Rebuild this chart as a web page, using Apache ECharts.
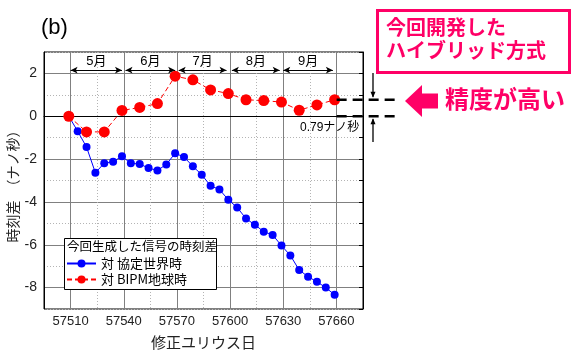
<!DOCTYPE html>
<html><head><meta charset="utf-8">
<script src="https://cdn.jsdelivr.net/npm/echarts@6/dist/echarts.min.js"></script>
<style>html,body{margin:0;padding:0;background:#fff}#c{width:575px;height:364px}</style>
</head><body><div id="c"></div>
<script>
// ---- data ----
const blueDays = [57509,57514,57519,57524,57529,57534,57539,57544,57549,57554,57559,57564,57569,57574,57579,57584,57589,57594,57599,57604,57609,57614,57619,57624,57629,57634,57639,57644,57649,57654,57659];
const blueValues = [0,-0.70,-1.44,-2.64,-2.19,-2.12,-1.87,-2.20,-2.23,-2.42,-2.53,-2.25,-1.73,-1.90,-2.34,-2.73,-3.25,-3.42,-3.90,-4.26,-4.78,-5.07,-5.39,-5.54,-6.04,-6.50,-7.18,-7.49,-7.73,-8.00,-8.34];
const redDays = [57509,57519,57529,57539,57549,57559,57569,57579,57589,57599,57609,57619,57629,57639,57649,57659];
const redValues = [0,-0.73,-0.73,0.27,0.41,0.59,1.87,1.70,1.23,1.06,0.77,0.73,0.66,0.28,0.53,0.77];
const xTickLabels = [57510,57540,57570,57600,57630,57660];
const yTickLabels = [-8,-6,-4,-2,0,2];
const monthNames = ['5月','6月','7月','8月','9月'];
const monthStart = [57510,57541,57571,57601,57630];
const monthEnd = [57539,57569,57598,57628,57658];
const monthLevel = 2.15;
const seriesNames = ['対 協定世界時','対 BIPM地球時'];
const legendTitle = '今回生成した信号の時刻差';
const diffLabel = '0.79ナノ秒';
const yName = '時刻差　（ナノ秒）';

const PINK = '#ff0066';
const LAT = "'Liberation Sans', 'Noto Sans CJK JP', sans-serif";
const JP = "'Noto Sans CJK JP', sans-serif";

const chart = echarts.init(document.getElementById('c'), null, {renderer:'canvas'});
const zip = (a,b) => a.map((v,i)=>[v,b[i]]);

const xBase = {type:'value', min:57495, max:57675, interval:15, gridIndex:0};
const yBase = {type:'value', min:-9, max:3, interval:1, gridIndex:0};

const option = {
  animation:false,
  backgroundColor:'#fff',
  grid:{left:44, right:212, top:52, bottom:55, containLabel:false, outerBoundsMode:'none',
    show:true, borderColor:'#000', borderWidth:1, backgroundColor:'transparent'},
  xAxis:[
    Object.assign({}, xBase, {
      position:'bottom',
      name:'修正ユリウス日', nameLocation:'middle', nameGap:26,
      nameTextStyle:{fontFamily:JP, fontSize:15, color:'#222'},
      axisLine:{show:true, lineStyle:{color:'#000', width:1}},
      axisTick:{show:false},
      axisLabel:{margin:6, fontFamily:LAT, fontSize:13, color:'#222',
        formatter:v => xTickLabels.includes(v) ? String(v) : ''},
      splitLine:{show:true, lineStyle:{color:['#b4b4b4','transparent'], type:[1,2], width:1}}
    }),
    Object.assign({}, xBase, {
      position:'bottom', axisLine:{show:false}, axisTick:{show:false}, axisLabel:{show:false},
      splitLine:{show:true, lineStyle:{color:['transparent','#808080'], type:'solid', width:1}}
    })
  ],
  yAxis:[
    Object.assign({}, yBase, {
      position:'left',
      axisLine:{show:true, lineStyle:{color:'#000', width:1}},
      axisTick:{show:false},
      axisLabel:{margin:7, fontFamily:LAT, fontSize:14, color:'#222',
        formatter:v => yTickLabels.includes(v) ? String(v) : ''},
      splitLine:{show:true, lineStyle:{color:['#b4b4b4','transparent'], type:[1,2], width:1}}
    }),
    Object.assign({}, yBase, {
      position:'left', axisLine:{show:false}, axisTick:{show:false}, axisLabel:{show:false},
      splitLine:{show:true, lineStyle:{color:['transparent','#808080'], type:'solid', width:1}}
    }),
    Object.assign({}, yBase, {
      position:'right', axisLine:{show:true, lineStyle:{color:'#000'}},
      axisTick:{show:true, inside:true, length:4, lineStyle:{color:'#000'}},
      axisLabel:{show:false}, splitLine:{show:false}
    })
  ],
  legend:{
    orient:'vertical', left:66, top:257, padding:0, itemWidth:29, itemHeight:10, itemGap:3,
    textStyle:{fontFamily:JP, fontSize:13, color:'#000'},
    data:seriesNames, z:6
  },
  series:[
    {
      name:seriesNames[0], type:'line', xAxisIndex:0, yAxisIndex:0,
      data:zip(blueDays, blueValues),
      symbol:'circle', symbolSize:8,
      itemStyle:{color:'#0000ff'},
      lineStyle:{color:'#0000ff', width:1},
      z:3
    },
    {
      name:seriesNames[1], type:'line', xAxisIndex:0, yAxisIndex:0,
      data:zip(redDays, redValues),
      symbol:'circle', symbolSize:11,
      itemStyle:{color:'#ff0000'},
      lineStyle:{color:'#ff0000', width:1, type:[5,3]},
      z:4,
      markLine:{
        silent:true, symbol:['arrow','arrow'], symbolSize:[5,7], precision:4,
        lineStyle:{color:'#000', width:1, type:'solid'},
        label:{show:true, position:'middle', distance:2, formatter:'{b}',
          fontFamily:LAT, fontSize:13, color:'#000'},
        emphasis:{disabled:true},
        data: monthNames.map((m,i)=>[
          {name:m, coord:[monthStart[i], monthLevel]},
          {coord:[monthEnd[i], monthLevel]}
        ])
      }
    }
  ]
};
chart.setOption(option);

// ---- annotations ----
const px = (x,y) => chart.convertToPixel({gridIndex:0}, [x,y]);
const lastRed = redValues[redValues.length-1];
const pTop = px(redDays[redDays.length-1], lastRed);
const pZero = px(redDays[redDays.length-1], 0);
const xDashStart = pTop[0] + 2;
const xDashEnd = 395;
const xDim = 373;
const g = [];
// title
g.push({type:'text', left:41, top:17, z:10, style:{text:'(b)', font:"22px 'Liberation Sans', sans-serif", fill:'#000'}});
// y axis name (rotated)
g.push({type:'text', x:13, y:183, rotation:Math.PI/2, z:10,
  style:{text:yName, font:"14px 'Noto Sans CJK JP', sans-serif", fill:'#222', align:'center', verticalAlign:'middle'}});
// dashed reference lines
[pTop[1], pZero[1]].forEach(y=>{
  g.push({type:'line', z:10, shape:{x1:xDashStart, y1:y, x2:xDashEnd, y2:y},
    style:{stroke:'#000', lineWidth:2.5, lineDash:[10,6]}});
});
// dimension marker
g.push({type:'line', z:10, shape:{x1:xDim, y1:73, x2:xDim, y2:pTop[1]-3}, style:{stroke:'#000', lineWidth:1.3}});
g.push({type:'polygon', z:10, shape:{points:[[xDim-2.5,pTop[1]-8],[xDim+2.5,pTop[1]-8],[xDim,pTop[1]-2]]}, style:{fill:'#000'}});
g.push({type:'line', z:10, shape:{x1:xDim, y1:pZero[1]+3, x2:xDim, y2:142}, style:{stroke:'#000', lineWidth:1.3}});
g.push({type:'polygon', z:10, shape:{points:[[xDim-2.5,pZero[1]+8],[xDim+2.5,pZero[1]+8],[xDim,pZero[1]+2]]}, style:{fill:'#000'}});
// diff label
g.push({type:'text', left:300, top:122, z:10, style:{text:diffLabel, font:"12px 'Liberation Sans', 'Noto Sans CJK JP', sans-serif", fill:'#000'}});
// legend box
g.push({type:'rect', z:5, shape:{x:64.5, y:238.5, width:152, height:51}, style:{fill:'#fff', stroke:'#000', lineWidth:1}});
g.push({type:'text', left:67, top:240, z:6, style:{text:legendTitle, font:"12.5px 'Noto Sans CJK JP', sans-serif", fill:'#000'}});
// pink box
g.push({type:'rect', z:10, shape:{x:377.5, y:10.5, width:192, height:62}, style:{fill:'#fff', stroke:PINK, lineWidth:3}});
g.push({type:'text', left:386, top:17, z:11, style:{text:'今回開発した', font:"bold 20px 'Noto Sans CJK JP', sans-serif", fill:PINK}});
g.push({type:'text', left:386, top:40, z:11, style:{text:'ハイブリッド方式', font:"bold 20px 'Noto Sans CJK JP', sans-serif", fill:PINK}});
// pink arrow
g.push({type:'polygon', z:10, shape:{points:[[405,101],[422,85],[422,93.5],[438,93.5],[438,108.5],[422,108.5],[422,117]]}, style:{fill:PINK}});
g.push({type:'text', left:445, top:87, z:11, style:{text:'精度が高い', font:"bold 24px 'Noto Sans CJK JP', sans-serif", fill:PINK}});
chart.setOption({graphic:g});
</script>
</body></html>
